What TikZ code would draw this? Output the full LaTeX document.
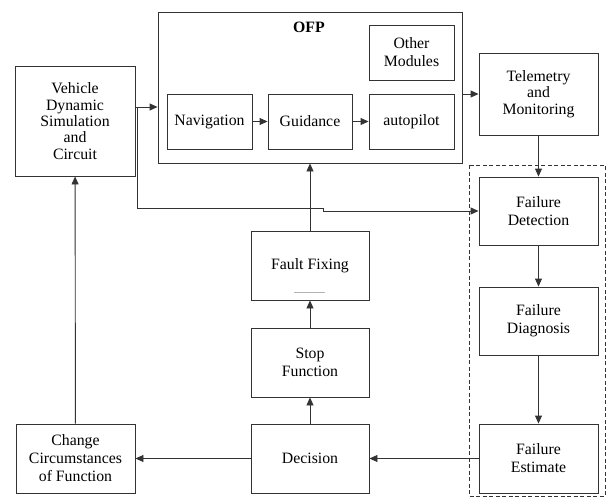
\documentclass[tikz,border=0pt]{standalone}
\usepackage{fontspec}
\setmainfont{LiberationSerif}[Extension=.ttf, UprightFont=*-Regular, BoldFont=*-Bold]
\usetikzlibrary{arrows.meta,calc}
\begin{document}
\begin{tikzpicture}[x=1pt,y=-1pt,
  box/.style={draw=black!80, line width=0.9pt, align=center, inner sep=0pt,
    font=\fontsize{15.8}{18}\selectfont},
  tight/.style={font=\fontsize{15.8}{16.4}\selectfont},
  arr/.style={draw=black!80, line width=0.9pt, -{Triangle[length=8pt,width=7pt]}},
  wire/.style={draw=black!80, line width=0.9pt}]
\useasboundingbox (0,0) rectangle (608,498);

% on-board flight program with its modules
\node[box, minimum width=304pt, minimum height=151pt] (ofp) at (310,87.5) {};
\node[font=\fontsize{15.8}{18}\selectfont\bfseries, inner sep=0pt] (ofpl) at (309,27) {OFP};
\node[box, minimum width=85pt, minimum height=55pt] (oth) at (411.5,52.5) {Other\\Modules};
\node[box, minimum width=85pt, minimum height=55pt] (nav) at (209.5,121.5) {Navigation};
\node[box, minimum width=84pt, minimum height=55pt] (gui) at (310,121.5) {Guidance};
\node[box, minimum width=85pt, minimum height=55pt] (aut) at (411.5,121.5) {autopilot};

% outer blocks
\node[box, tight, minimum width=120pt, minimum height=110pt] (veh) at (75,121) {Vehicle\\Dynamic\\Simulation\\and\\Circuit};
\node[box, tight, minimum width=119pt, minimum height=82pt] (tel) at (538.5,94) {Telemetry\\and\\Monitoring};

% failure handling chain
\draw[black!80, line width=0.9pt, dash pattern=on 4pt off 2.5pt] (469,165) rectangle (605,496);
\node[box, minimum width=119pt, minimum height=68pt] (fd) at (538.5,211) {Failure\\Detection};
\node[box, minimum width=119pt, minimum height=68pt] (fdg) at (538.5,321) {Failure\\Diagnosis};
\node[box, minimum width=119pt, minimum height=69pt] (fe) at (538.5,458.5) {Failure\\Estimate};

% reaction chain
\node[box, minimum width=118pt, minimum height=69pt] (dec) at (310,458.5) {Decision};
\node[box, minimum width=118pt, minimum height=69pt] (stp) at (310,362.5) {Stop\\Function};
\node[box, minimum width=118pt, minimum height=69pt] (fix) at (310,265.5) {Fault Fixing};
\draw[gray!60, line width=0.8pt] ($(fix.center)+(-16,26.5)$) -- ++(31,0);
\node[box, minimum width=119pt, minimum height=69pt] (chg) at (75.5,458.5) {Change\\Circumstances\\of Function};

% connectors
\coordinate (lvl) at (0,107);
\coordinate (tap) at (137,107);
\draw[arr] (veh.east |- lvl) -- (ofp.west |- lvl);
\draw[arr] (tap) -- (137,208) -- (323,208) -- (323,211) -- (fd.west);
\draw[arr] (nav) -- (gui);
\draw[arr] (gui) -- (aut);
\draw[arr] (ofp.east |- tel.west) -- (tel.west);
\draw[arr] (tel) -- (fd);
\draw[arr] (fd) -- (fdg);
\draw[arr] (fdg) -- (fe);
\draw[arr] (fe) -- (dec);
\draw[arr] (dec) -- (chg);
\draw[arr] (dec) -- (stp);
\draw[arr] (stp) -- (fix);
\draw[arr] (fix) -- (fix |- ofp.south);
\draw[arr] (chg) -- (veh);
\end{tikzpicture}
\end{document}
